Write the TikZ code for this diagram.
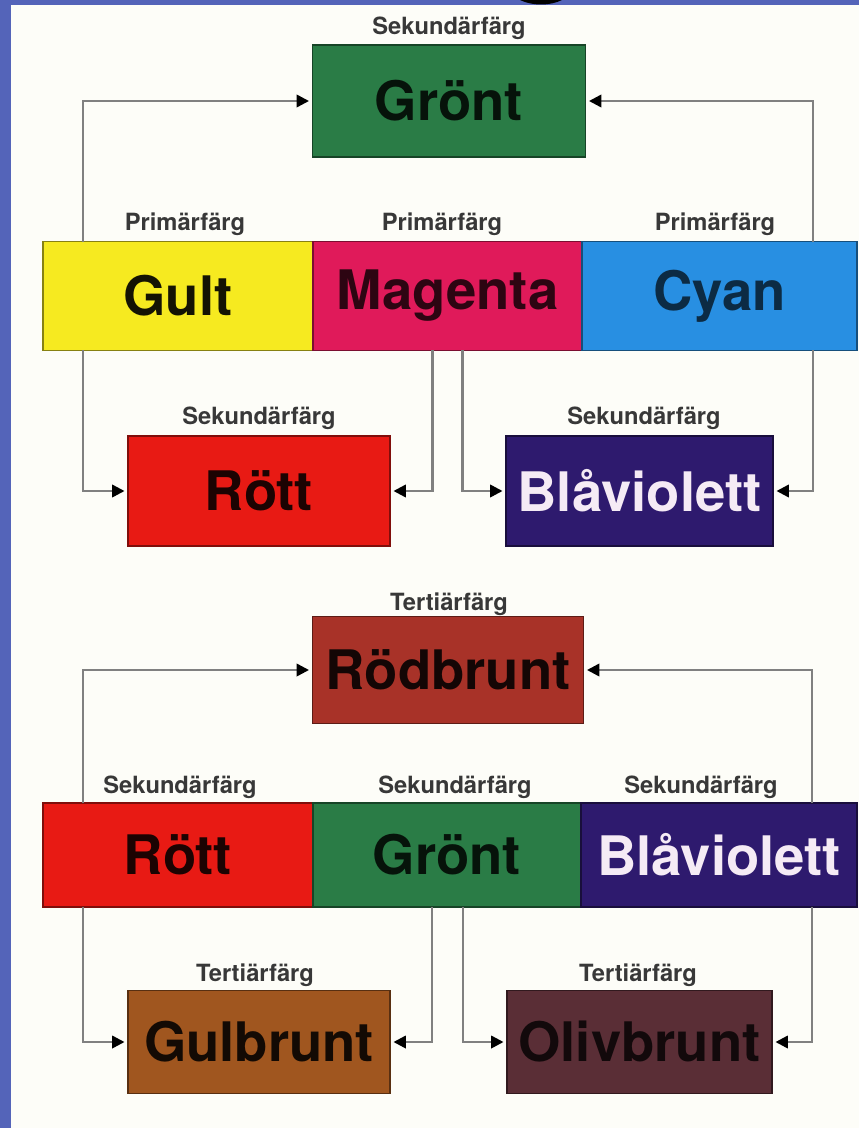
\documentclass[tikz,border=0pt]{standalone}
\usepackage{fontspec}
\setmainfont{TeX Gyre Heros}
\usepackage{tikz}
\usetikzlibrary{arrows.meta,positioning,calc}

\definecolor{bakgrund}{RGB}{84,100,185}
\definecolor{papper}{RGB}{253,253,248}
\definecolor{cGront}{RGB}{42,124,70}
\definecolor{cGult}{RGB}{246,234,32}
\definecolor{cMagenta}{RGB}{224,26,90}
\definecolor{cCyan}{RGB}{40,143,226}
\definecolor{cRott}{RGB}{232,26,20}
\definecolor{cBlav}{RGB}{46,26,110}
\definecolor{cRodbrunt}{RGB}{168,50,40}
\definecolor{cGulbrunt}{RGB}{160,86,31}
\definecolor{cOlivbrunt}{RGB}{90,46,54}

\tikzset{
  ruta/.style={draw=#1!55!black, fill=#1, line width=0.8pt, inner sep=0pt,
    outer sep=0pt, font=\fontsize{31}{34}\selectfont\bfseries},
  etikett/.style={inner sep=0pt, text=black!78,
    font=\fontsize{13.5}{15}\selectfont\bfseries},
  pil/.style={draw=black!50, line width=1.4pt, shorten >=2pt,
    -{Triangle[length=7pt,width=7pt,color=black]}}
}

\begin{document}
\begin{tikzpicture}[x=0.02cm,y=-0.02cm]
  \useasboundingbox (0,0) rectangle (859,1128);
  \fill[bakgrund] (0,0) rectangle (859,1128);
  \fill[papper] (11,5) rectangle (859,1128);
  % rest of the slide title
  \fill[black] (520,0) .. controls (532,6) and (550,6) .. (562,0) -- cycle;

  % primary -> secondary
  \node[etikett] (lGront) at (449,28) {Sekundärfärg};
  \node[ruta=cGront, text=black!85!cGront, minimum width=5.46cm, minimum height=2.24cm] (gront) at (449,101) {Grönt};

  \node[etikett] (lGult) at (185,224) {Primärfärg};
  \node[etikett] (lMagenta) at (442,224) {Primärfärg};
  \node[etikett] (lCyan) at (715,224) {Primärfärg};
  \node[ruta=cGult, text=black!92!cGult, minimum width=5.4cm, minimum height=2.18cm] (gult) at (178,296) {Gult};
  \node[ruta=cMagenta, text=black!80!cMagenta, minimum width=5.38cm, minimum height=2.18cm] (magenta) at (447.5,296) {Magenta};
  \node[ruta=cCyan, text=black!70!cCyan, minimum width=5.5cm, minimum height=2.18cm] (cyan) at (719.5,296) {Cyan};

  \node[etikett] (lRott) at (259,418) {Sekundärfärg};
  \node[etikett] (lBlav) at (644,418) {Sekundärfärg};
  \node[ruta=cRott, text=black!88!cRott, minimum width=5.24cm, minimum height=2.2cm] (rott) at (259,491) {Rött};
  \node[ruta=cBlav, text=white!92!violet, minimum width=5.34cm, minimum height=2.2cm] (blav) at (639.5,491) {Blåviolett};

  \draw[pil] ($(gult.north west)+(40,0)$) |- (gront.west);
  \draw[pil] ($(cyan.north east)+(-44,0)$) |- (gront.east);
  \draw[pil] ($(gult.south west)+(40,0)$) |- (rott.west);
  \draw[pil] ($(magenta.south)+(-15,0)$) |- (rott.east);
  \draw[pil] ($(magenta.south)+(15,0)$) |- (blav.west);
  \draw[pil] ($(cyan.south east)+(-44,0)$) |- (blav.east);

  % secondary -> tertiary
  \node[etikett] (lRodbrunt) at (449,604) {Tertiärfärg};
  \node[ruta=cRodbrunt, text=black!88!cRodbrunt, minimum width=5.42cm, minimum height=2.14cm] (rodbrunt) at (448,670) {Rödbrunt};

  \node[etikett] (lRott2) at (180,787) {Sekundärfärg};
  \node[etikett] (lGront2) at (455,787) {Sekundärfärg};
  \node[etikett] (lBlav2) at (701,787) {Sekundärfärg};
  \node[ruta=cRott, text=black!88!cRott, minimum width=5.4cm, minimum height=2.08cm] (rott2) at (178,855) {Rött};
  \node[ruta=cGront, text=black!85!cGront, minimum width=5.36cm, minimum height=2.08cm] (gront2) at (447,855) {Grönt};
  \node[ruta=cBlav, text=white!92!violet, minimum width=5.52cm, minimum height=2.08cm] (blav2) at (719,855) {Blåviolett};

  \node[etikett] (lGulbrunt) at (255,975) {Tertiärfärg};
  \node[etikett] (lOlivbrunt) at (638,975) {Tertiärfärg};
  \node[ruta=cGulbrunt, text=black!88!cGulbrunt, minimum width=5.24cm, minimum height=2.06cm] (gulbrunt) at (259,1042) {Gulbrunt};
  \node[ruta=cOlivbrunt, text=black!80!cOlivbrunt, minimum width=5.3cm, minimum height=2.06cm] (olivbrunt) at (639.5,1042) {Olivbrunt};

  \draw[pil] ($(rott2.north west)+(40,0)$) |- (rodbrunt.west);
  \draw[pil] ($(blav2.north east)+(-45,0)$) |- (rodbrunt.east);
  \draw[pil] ($(rott2.south west)+(40,0)$) |- (gulbrunt.west);
  \draw[pil] ($(gront2.south)+(-15,0)$) |- (gulbrunt.east);
  \draw[pil] ($(gront2.south)+(16,0)$) |- (olivbrunt.west);
  \draw[pil] ($(blav2.south east)+(-45,0)$) |- (olivbrunt.east);
\end{tikzpicture}
\end{document}
